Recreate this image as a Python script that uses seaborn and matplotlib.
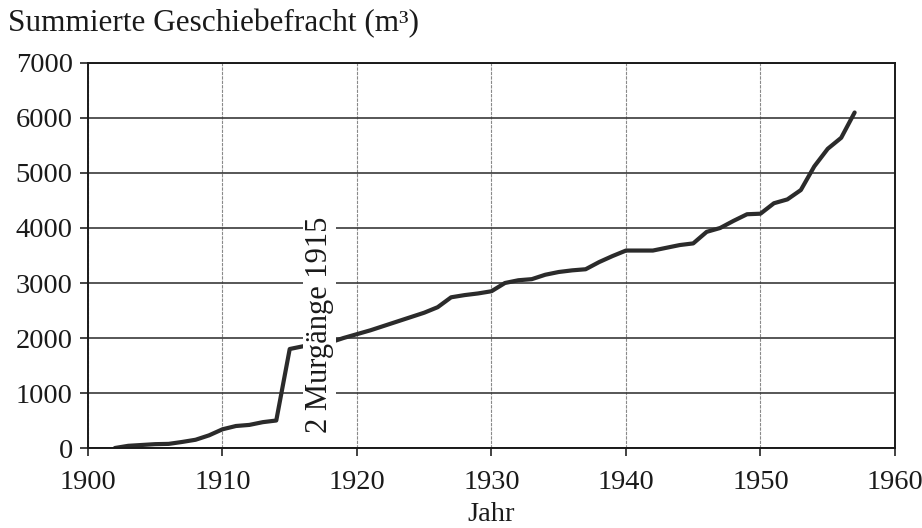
import matplotlib
matplotlib.use("Agg")
import matplotlib.pyplot as plt
import seaborn as sns
import pandas as pd

# --- Data ---
years = [1902, 1903, 1904, 1905, 1906, 1907, 1908, 1909, 1910, 1911, 1912, 1913, 1914,
         1915, 1916, 1917, 1918, 1919, 1920, 1921, 1922, 1923, 1924, 1925, 1926, 1927,
         1928, 1929, 1930, 1931, 1932, 1933, 1934, 1935, 1936, 1937, 1938, 1939, 1940,
         1941, 1942, 1943, 1944, 1945, 1946, 1947, 1948, 1949, 1950, 1951, 1952, 1953,
         1954, 1955, 1956, 1957]
fracht = [0, 40, 55, 70, 75, 110, 150, 230, 340, 400, 420, 470, 500,
          1800, 1850, 1880, 1920, 2000, 2070, 2140, 2220, 2300, 2380, 2460, 2560, 2740,
          2780, 2810, 2850, 3000, 3050, 3070, 3150, 3200, 3230, 3250, 3380, 3490, 3590,
          3590, 3590, 3640, 3690, 3720, 3930, 4000, 4130, 4250, 4260, 4450, 4520, 4690,
          5120, 5440, 5640, 6100]
x_ticks = [1900, 1910, 1920, 1930, 1940, 1950, 1960]
y_ticks = [0, 1000, 2000, 3000, 4000, 5000, 6000, 7000]
annotation = "2 Murgänge 1915"

df = pd.DataFrame({"Jahr": years, "Fracht": fracht})

sns.set_theme(style="ticks")
plt.rcParams['font.family'] = ['Liberation Serif', 'DejaVu Serif']
FS = 20.5

fig = plt.figure(figsize=(9.22, 5.28), dpi=100)
ax = fig.add_axes([0.0954, 0.1515, 0.8753, 0.7292])

sns.lineplot(data=df, x="Jahr", y="Fracht", ax=ax, color="#2b2b2b", linewidth=3.0)

ax.set_xlim(1900, 1960)
ax.set_ylim(0, 7000)
ax.set_xticks(x_ticks)
ax.set_yticks(y_ticks)
ax.tick_params(labelsize=FS, length=6, width=1.2, color="#222222", labelcolor="#1a1a1a")
ax.tick_params(axis="x", pad=10)
ax.tick_params(axis="y", pad=5)

# horizontal grid darker and solid, vertical grid light and thin
ax.yaxis.grid(True, color="#3a3a3a", linewidth=1.2)
ax.xaxis.grid(True, color="#8a8a8a", linewidth=0.8, linestyle=(0, (3, 1)))
ax.set_axisbelow(True)
for s in ax.spines.values():
    s.set_color("#1a1a1a")
    s.set_linewidth(1.4)

ax.set_xlabel("Jahr", fontsize=FS, color="#1a1a1a", labelpad=5)
ax.set_ylabel("")
fig.text(0.009, 0.94, "Summierte Geschiebefracht (m³)", fontsize=22.5, color="#1a1a1a",
         ha="left", va="baseline")

ax.text(1917.2, 2240, annotation, rotation=90, ha="center", va="center", fontsize=22,
        color="#1a1a1a", bbox=dict(facecolor="white", edgecolor="none", pad=1.5))

fig.savefig("out.png", dpi=100, facecolor="white")
